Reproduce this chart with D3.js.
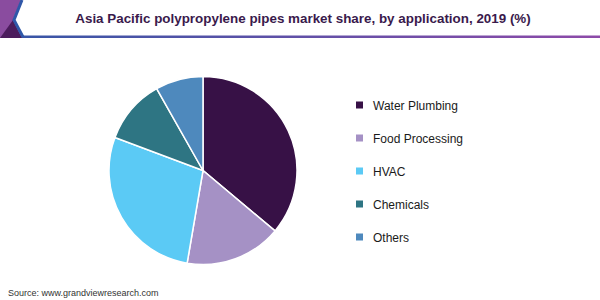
<!DOCTYPE html>
<html>
<head>
<meta charset="utf-8">
<script src="https://cdnjs.cloudflare.com/ajax/libs/d3/7.8.5/d3.min.js"></script>
<style>
  body { margin: 0; background: #fff; }
  svg { display: block; font-family: "Liberation Sans", Arial, sans-serif; }
</style>
</head>
<body>
<div id="chart"></div>
<script>
// data
const categories = ['Water Plumbing', 'Food Processing', 'HVAC', 'Chemicals', 'Others'];
const shares = [36.1, 16.6, 28.0, 11.1, 8.2];
const colors = ['#371146', '#a591c5', '#5bcaf5', '#2e7583', '#4e89bd'];

const width = 600;
const height = 300;

const svg = d3.select('#chart')
    .append('svg')
        .attr('width', width)
        .attr('height', height);

// header decoration
const defs = svg.append('defs');
const grad = defs.append('linearGradient')
    .attr('id', 'rule')
    .attr('x1', '0%').attr('x2', '100%');
grad.append('stop').attr('offset', '0%').attr('stop-color', '#3556a6');
grad.append('stop').attr('offset', '100%').attr('stop-color', '#8d4aa8');

svg.append('rect')
    .attr('x', 0).attr('y', 35.5)
    .attr('width', width).attr('height', 2.5)
    .attr('fill', 'url(#rule)');

svg.append('polygon')
    .attr('points', '0,0 21,0 13,20 22,38 0,38')
    .attr('fill', '#8a4c9f');
svg.append('polygon')
    .attr('points', '0,38 13,20 22,38')
    .attr('fill', '#4b1c5c');
svg.append('polyline')
    .attr('points', '22,0 14,20 23,37')
    .attr('fill', 'none')
    .attr('stroke', '#2f57a8')
    .attr('stroke-width', 3);

svg.append('text')
    .attr('x', 303)
    .attr('y', 23)
    .attr('text-anchor', 'middle')
    .attr('fill', '#3a1a4c')
    .style('font-size', '13.4px')
    .style('font-weight', 'bold')
    .text('Asia Pacific polypropylene pipes market share, by application, 2019 (%)');

// pie
const radius = 94;
const g = svg.append('g')
    .attr('transform', 'translate(203,170.5)');

const pie = d3.pie().sort(null).value(d => d);
const arc = d3.arc().innerRadius(0).outerRadius(radius);

g.selectAll('path')
    .data(pie(shares))
    .enter()
    .append('path')
        .attr('d', arc)
        .attr('fill', (d, i) => colors[i])
        .attr('stroke', '#fff')
        .attr('stroke-width', 1.5);

// legend
const legendY = d3.scalePoint()
    .domain(categories)
    .range([105, 237]);

const legend = svg.append('g')
    .selectAll('g')
    .data(categories)
    .enter()
    .append('g')
        .attr('transform', d => `translate(356,${legendY(d)})`);

legend.append('rect')
    .attr('x', 0).attr('y', -3.5)
    .attr('width', 7).attr('height', 7)
    .attr('fill', (d, i) => colors[i]);

legend.append('text')
    .attr('x', 17)
    .attr('y', 4.5)
    .attr('fill', '#1a1a1a')
    .style('font-size', '12px')
    .text(d => d);

svg.append('text')
    .attr('x', 8)
    .attr('y', 296)
    .attr('fill', '#333')
    .style('font-size', '9px')
    .text('Source: www.grandviewresearch.com');
</script>
</body>
</html>
